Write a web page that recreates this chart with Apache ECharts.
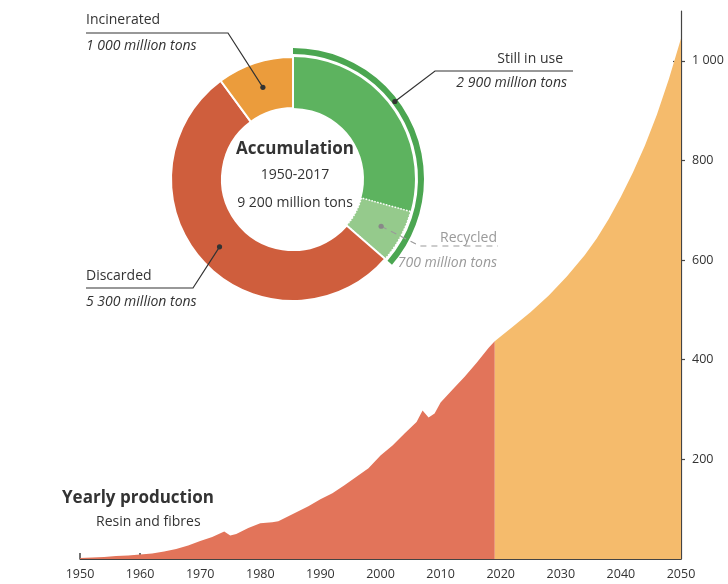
<!DOCTYPE html>
<html>
<head>
<meta charset="utf-8">
<script src="https://cdn.jsdelivr.net/npm/echarts@6/dist/echarts.min.js"></script>
<style>
  html, body { margin: 0; padding: 0; background: #ffffff; }
  #chart { width: 728px; height: 584px; }
</style>
</head>
<body>
<div id="chart"></div>
<script>
// Yearly plastic production (resin and fibres), million tons
const productionYears  = [1950, 1952, 1954, 1956, 1958, 1960, 1962, 1964, 1966, 1968, 1970, 1972, 1974, 1975, 1976, 1978, 1980, 1982, 1983, 1985, 1988, 1990, 1992, 1994, 1996, 1998, 2000, 2002, 2004, 2006, 2007, 2008, 2009, 2010, 2012, 2014, 2016, 2018, 2019];
const productionValues = [2, 3, 4, 6, 7, 9, 11, 15, 20, 27, 36, 44, 55, 47, 50, 62, 72, 74, 76, 88, 106, 120, 132, 148, 165, 182, 208, 228, 252, 275, 298, 284, 292, 314, 340, 366, 394, 424, 437];

// Projected production to 2050
const projectionYears  = [2019, 2022, 2025, 2028, 2031, 2034, 2036, 2038, 2040, 2042, 2044, 2046, 2048, 2050];
const projectionValues = [437, 466, 496, 529, 567, 610, 644, 683, 727, 776, 830, 892, 964, 1045];

// Accumulated plastics 1950-2017, million tons
const fateNames  = ['Still in use', 'Recycled', 'Discarded', 'Incinerated'];
const fateValues = [2900, 700, 5300, 1000];
const fateLabels = ['2 900 million tons', '700 million tons', '5 300 million tons', '1 000 million tons'];

const xTicks = { min: 1950, max: 2050, interval: 10 };
const yTicks = { min: 0, max: 1100, values: [200, 400, 600, 800, 1000] };

const FONT = '"Open Sans", "Noto Sans", sans-serif';
const INK = '#333333';
const GREY = '#9a9a9a';

const fateColors = ['#5db35f', '#95ca8c', '#cf5e3d', '#eb9c3c'];

// donut geometry
const CX = 293, CY = 179, R_IN = 71, R_OUT = 122, ARC_IN = 125, ARC_OUT = 131;

const total = fateValues.reduce((a, b) => a + b, 0);
const startFrac = [];
let acc = 0;
fateValues.forEach(v => { startFrac.push(acc / total); acc += v; });
function midAngle(i) { return (startFrac[i] + fateValues[i] / total / 2) * 2 * Math.PI; }
function polar(theta, r) { return [CX + r * Math.sin(theta), CY - r * Math.cos(theta)]; }

const dotStill = polar(midAngle(0), (ARC_IN + ARC_OUT) / 2);
const dotRec   = polar(midAngle(1), 100);
const dotDisc  = polar(midAngle(2), 100);
const dotInc   = polar(midAngle(3), (R_IN + R_OUT) / 2);

function leader(points, dashed, color) {
  return {
    type: 'polyline', z: 20, silent: true,
    shape: { points: points },
    style: { stroke: color || INK, lineWidth: 1.2, fill: null, lineDash: dashed ? [6, 5] : null }
  };
}
function dot(p, color) {
  return { type: 'circle', z: 21, silent: true, shape: { cx: p[0], cy: p[1], r: 2.6 }, style: { fill: color || INK } };
}
function txt(x, y, text, opts) {
  return {
    type: 'text', z: 22, silent: true, x: x, y: y,
    style: Object.assign({
      text: text, fill: INK, font: '14px ' + FONT,
      textAlign: 'left', textVerticalAlign: 'middle'
    }, opts || {})
  };
}
function thousands(v) { return String(v).replace(/\B(?=(\d{3})+$)/g, ' '); }

const chart = echarts.init(document.getElementById('chart'), null, { renderer: 'canvas' });

chart.setOption({
  backgroundColor: '#ffffff',
  animation: false,
  grid: { left: 80, right: 47, top: 11, bottom: 25, containLabel: false },
  xAxis: {
    type: 'value', min: xTicks.min, max: xTicks.max, interval: xTicks.interval,
    axisLine: { show: true, lineStyle: { color: '#444', width: 1.2 } },
    axisTick: { show: true, inside: true, length: 6, lineStyle: { color: '#444', width: 1.5 } },
    axisLabel: { color: INK, fontSize: 12.5, fontFamily: FONT, margin: 9, formatter: v => String(v) },
    splitLine: { show: false }
  },
  yAxis: [
    {
      type: 'value', position: 'right', min: yTicks.min, max: yTicks.max,
      axisLine: { show: true, lineStyle: { color: '#444', width: 1.2 } },
      axisTick: { show: true, inside: false, length: 4, customValues: yTicks.values, lineStyle: { color: '#444', width: 1.2 } },
      axisLabel: { color: INK, fontSize: 12.5, fontFamily: FONT, margin: 11, customValues: yTicks.values, formatter: v => thousands(v) },
      splitLine: { show: false }
    },
    {
      type: 'value', position: 'right', min: yTicks.min, max: yTicks.max,
      axisLine: { show: false },
      axisTick: { show: true, inside: true, length: 8, customValues: yTicks.values, lineStyle: { color: '#444', width: 1.2 } },
      axisLabel: { show: false },
      splitLine: { show: false }
    }
  ],
  series: [
    {
      name: 'Yearly production', type: 'line', symbol: 'none', z: 2,
      data: productionYears.map((y, i) => [y, productionValues[i]]),
      lineStyle: { width: 0 },
      areaStyle: { color: '#e2745a', opacity: 1 }
    },
    {
      name: 'Projection', type: 'line', symbol: 'none', z: 1,
      data: projectionYears.map((y, i) => [y, projectionValues[i]]),
      lineStyle: { width: 0 },
      areaStyle: { color: '#f5bb6c', opacity: 1 }
    },
    {
      name: 'Accumulation', type: 'pie', z: 5, silent: true,
      center: [CX, CY], radius: [R_IN, R_OUT], startAngle: 90, clockwise: true,
      label: { show: false }, labelLine: { show: false },
      data: fateNames.map((n, i) => ({
        name: n, value: fateValues[i],
        itemStyle: {
          color: fateColors[i],
          borderColor: '#ffffff',
          borderWidth: i === 0 ? 0 : (i === 1 ? 1.5 : 2),
          borderType: i === 1 ? 'dotted' : 'solid'
        }
      }))
    },
    {
      name: 'Still in use (outer)', type: 'pie', z: 5, silent: true,
      center: [CX, CY], radius: [ARC_IN, ARC_OUT], startAngle: 90, clockwise: true,
      label: { show: false }, labelLine: { show: false },
      data: [
        { name: 'Still in use + recycled', value: fateValues[0] + fateValues[1], itemStyle: { color: '#4ba651' } },
        { name: 'rest', value: fateValues[2] + fateValues[3], itemStyle: { color: 'rgba(0,0,0,0)' } }
      ]
    }
  ],
  graphic: [
    // centre of the donut
    txt(CX + 2, 149, 'Accumulation', { textAlign: 'center', font: 'bold 17px ' + FONT }),
    txt(CX + 2, 175, '1950-2017', { textAlign: 'center' }),
    txt(CX + 2, 203, '9 200 million tons', { textAlign: 'center' }),

    // Incinerated
    leader([[86, 33], [228, 33], dotInc]),
    dot(dotInc),
    txt(86, 20, fateNames[3]),
    txt(86, 46, fateLabels[3], { font: 'italic 14px ' + FONT }),

    // Still in use
    leader([[573, 71], [435, 71], dotStill]),
    dot(dotStill),
    txt(563, 59, fateNames[0], { textAlign: 'right' }),
    txt(567, 83, fateLabels[0], { textAlign: 'right', font: 'italic 14px ' + FONT }),

    // Discarded
    leader([[86, 288], [193, 288], dotDisc]),
    dot(dotDisc),
    txt(86, 276, fateNames[2]),
    txt(86, 302, fateLabels[2], { font: 'italic 14px ' + FONT }),

    // Recycled
    leader([dotRec, [420, 246], [498, 246]], true, GREY),
    dot(dotRec, '#888'),
    txt(497, 238, fateNames[1], { textAlign: 'right', fill: GREY }),
    txt(497, 263, fateLabels[1], { textAlign: 'right', fill: GREY, font: 'italic 14px ' + FONT }),

    // production caption
    txt(62, 498, 'Yearly production', { font: 'bold 17px ' + FONT }),
    txt(96, 522, 'Resin and fibres')
  ]
});
</script>
</body>
</html>
